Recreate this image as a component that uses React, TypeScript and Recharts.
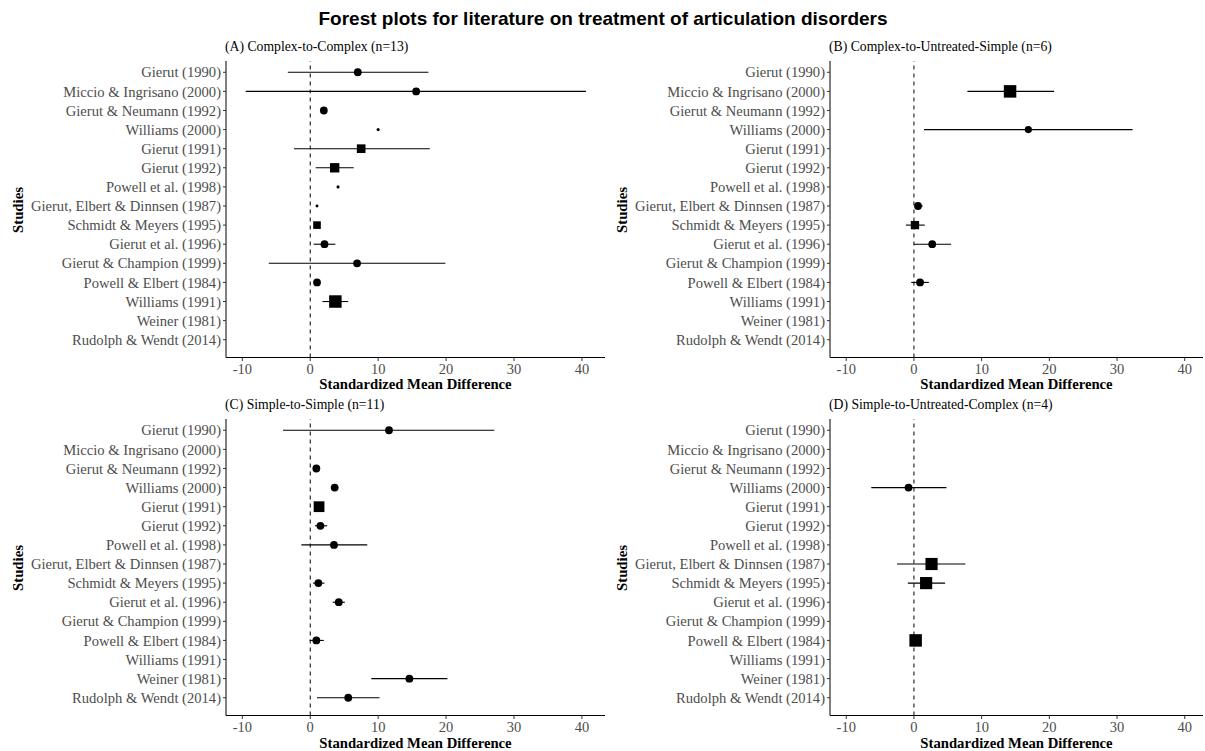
import React from 'react';
import { ScatterChart, Scatter, XAxis, YAxis, ReferenceLine, ErrorBar } from 'recharts';

// study order, top to bottom
const studies = [
  'Gierut (1990)',
  'Miccio & Ingrisano (2000)',
  'Gierut & Neumann (1992)',
  'Williams (2000)',
  'Gierut (1991)',
  'Gierut (1992)',
  'Powell et al. (1998)',
  'Gierut, Elbert & Dinnsen (1987)',
  'Schmidt & Meyers (1995)',
  'Gierut et al. (1996)',
  'Gierut & Champion (1999)',
  'Powell & Elbert (1984)',
  'Williams (1991)',
  'Weiner (1981)',
  'Rudolph & Wendt (2014)',
];

const xTicks = [-10, 0, 10, 20, 30, 40];

// smd = standardized mean difference, lo/hi = CI bounds, weight = relative marker weight, group = design (1 circle, 2 square)
const complexToComplex = [
  { study: 'Gierut (1990)', smd: 7.0, lo: -3.3, hi: 17.4, weight: 1, group: 1 },
  { study: 'Miccio & Ingrisano (2000)', smd: 15.6, lo: -9.5, hi: 40.6, weight: 1, group: 1 },
  { study: 'Gierut & Neumann (1992)', smd: 2.0, lo: 2.0, hi: 2.0, weight: 1, group: 1 },
  { study: 'Williams (2000)', smd: 10.0, lo: 10.0, hi: 10.0, weight: 0.16, group: 1 },
  { study: 'Gierut (1991)', smd: 7.5, lo: -2.4, hi: 17.6, weight: 1.23, group: 2 },
  { study: 'Gierut (1992)', smd: 3.6, lo: 0.8, hi: 6.4, weight: 1.44, group: 2 },
  { study: 'Powell et al. (1998)', smd: 4.1, lo: 4.1, hi: 4.1, weight: 0.16, group: 1 },
  { study: 'Gierut, Elbert & Dinnsen (1987)', smd: 1.0, lo: 1.0, hi: 1.0, weight: 0.14, group: 1 },
  { study: 'Schmidt & Meyers (1995)', smd: 1.0, lo: 1.0, hi: 1.0, weight: 0.95, group: 2 },
  { study: 'Gierut et al. (1996)', smd: 2.1, lo: 0.5, hi: 3.7, weight: 1, group: 1 },
  { study: 'Gierut & Champion (1999)', smd: 6.9, lo: -6.1, hi: 19.9, weight: 1, group: 1 },
  { study: 'Powell & Elbert (1984)', smd: 1.0, lo: 1.0, hi: 1.0, weight: 1, group: 1 },
  { study: 'Williams (1991)', smd: 3.7, lo: 1.8, hi: 5.6, weight: 2.56, group: 2 },
];

const complexToUntreatedSimple = [
  { study: 'Miccio & Ingrisano (2000)', smd: 14.2, lo: 7.9, hi: 20.7, weight: 2.56, group: 2 },
  { study: 'Williams (2000)', smd: 16.9, lo: 1.5, hi: 32.3, weight: 0.85, group: 1 },
  { study: 'Gierut, Elbert & Dinnsen (1987)', smd: 0.6, lo: 0.3, hi: 1.3, weight: 1, group: 1 },
  { study: 'Schmidt & Meyers (1995)', smd: 0.15, lo: -1.2, hi: 1.6, weight: 1.14, group: 2 },
  { study: 'Gierut et al. (1996)', smd: 2.7, lo: 0.0, hi: 5.5, weight: 1, group: 1 },
  { study: 'Powell & Elbert (1984)', smd: 0.9, lo: -0.4, hi: 2.2, weight: 1, group: 1 },
];

const simpleToSimple = [
  { study: 'Gierut (1990)', smd: 11.6, lo: -4.0, hi: 27.1, weight: 1, group: 1 },
  { study: 'Gierut & Neumann (1992)', smd: 0.9, lo: 0.9, hi: 0.9, weight: 1, group: 1 },
  { study: 'Williams (2000)', smd: 3.6, lo: 3.6, hi: 3.6, weight: 1, group: 1 },
  { study: 'Gierut (1991)', smd: 1.3, lo: 1.3, hi: 1.3, weight: 1.9, group: 2 },
  { study: 'Gierut (1992)', smd: 1.5, lo: 0.7, hi: 2.5, weight: 1, group: 1 },
  { study: 'Powell et al. (1998)', smd: 3.5, lo: -1.3, hi: 8.4, weight: 1, group: 1 },
  { study: 'Schmidt & Meyers (1995)', smd: 1.2, lo: 0.4, hi: 2.1, weight: 1, group: 1 },
  { study: 'Gierut et al. (1996)', smd: 4.2, lo: 3.3, hi: 5.1, weight: 1, group: 1 },
  { study: 'Powell & Elbert (1984)', smd: 0.9, lo: -0.1, hi: 2.0, weight: 1, group: 1 },
  { study: 'Weiner (1981)', smd: 14.6, lo: 9.0, hi: 20.2, weight: 1, group: 1 },
  { study: 'Rudolph & Wendt (2014)', smd: 5.6, lo: 1.0, hi: 10.2, weight: 1, group: 1 },
];

const simpleToUntreatedComplex = [
  { study: 'Williams (2000)', smd: -0.8, lo: -6.3, hi: 4.8, weight: 1, group: 1 },
  { study: 'Gierut, Elbert & Dinnsen (1987)', smd: 2.6, lo: -2.5, hi: 7.6, weight: 2.43, group: 2 },
  { study: 'Schmidt & Meyers (1995)', smd: 1.8, lo: -0.9, hi: 4.6, weight: 2.43, group: 2 },
  { study: 'Powell & Elbert (1984)', smd: 0.25, lo: 0.25, hi: 0.25, weight: 2.56, group: 2 },
];

const SERIF = '"Liberation Serif", "Times New Roman", serif';

const renderMarker = (props: any) => {
  const { cx, cy, payload } = props;
  if (cx == null || cy == null) return <g />;
  const d = 7.8 * Math.sqrt(payload.weight);
  if (payload.group === 2) {
    return <rect x={cx - d / 2} y={cy - d / 2} width={d} height={d} fill="#000" />;
  }
  return <circle cx={cx} cy={cy} r={d / 2} fill="#000" />;
};

interface PanelProps {
  rows: typeof complexToComplex;
  subtitle: string;
  left: number;
  top: number;
  width: number;
  yAxisWidth: number;
  marginRight: number;
  domain: [number, number];
}

const ForestPanel: React.FC<PanelProps> = ({ rows, subtitle, left, top, width, yAxisWidth, marginRight, domain }) => {
  const data = rows.map((r) => ({
    x: r.smd,
    y: studies.indexOf(r.study) + 1,
    err: [r.smd - r.lo, r.hi - r.smd],
    weight: r.weight,
    group: r.group,
  }));
  const plotLeft = left + yAxisWidth;
  const plotRight = left + width - marginRight;

  return (
    <>
      <div
        style={{
          position: 'absolute', left: plotLeft - 1, top: top + 38, fontSize: 13.7,
          fontFamily: SERIF, color: '#000', whiteSpace: 'nowrap', lineHeight: '18px',
        }}
      >
        {subtitle}
      </div>
      <div
        style={{
          position: 'absolute', left: left + 18, top: top + 209.5, fontSize: 14.8,
          fontFamily: SERIF, fontWeight: 'bold', transform: 'translate(-50%, -50%) rotate(-90deg)',
          whiteSpace: 'nowrap', lineHeight: '18px',
        }}
      >
        Studies
      </div>
      <div
        style={{
          position: 'absolute', left: (plotLeft + plotRight) / 2, top: top + 384.3, fontSize: 14.7,
          fontFamily: SERIF, fontWeight: 'bold', transform: 'translate(-50%, -50%)',
          whiteSpace: 'nowrap', lineHeight: '18px',
        }}
      >
        Standardized Mean Difference
      </div>
      <div style={{ position: 'absolute', left, top }}>
        <ScatterChart width={width} height={395} margin={{ top: 61, right: marginRight, bottom: 0, left: 0 }}>
          <XAxis
            type="number"
            dataKey="x"
            domain={domain}
            allowDataOverflow
            ticks={xTicks}
            interval={0}
            height={37.5}
            stroke="#000"
            tickSize={3.5}
            tickMargin={2.5}
            tickLine={{ stroke: '#333' }}
            tick={{ fill: '#4d4d4d', fontSize: 14.5, fontFamily: SERIF }}
          />
          <YAxis
            type="number"
            dataKey="y"
            domain={[0.41, 15.93]}
            allowDataOverflow
            reversed
            ticks={studies.map((_, i) => i + 1)}
            interval={0}
            width={yAxisWidth}
            stroke="#000"
            tickSize={3}
            tickMargin={2}
            tickLine={{ stroke: '#333' }}
            tickFormatter={(v: number) => studies[v - 1] ?? ''}
            tick={{ fill: '#4d4d4d', fontSize: 14.6, fontFamily: SERIF }}
          />
          <ReferenceLine x={0} stroke="#000" strokeWidth={1} strokeDasharray="4 4" />
          <Scatter data={data} shape={renderMarker} isAnimationActive={false}>
            <ErrorBar dataKey="err" direction="x" width={0} stroke="#000" strokeWidth={1.1} isAnimationActive={false} />
          </Scatter>
        </ScatterChart>
      </div>
    </>
  );
};

const leftDomain: [number, number] = [-12.4, 43.4];
const rightDomain: [number, number] = [-12.4, 42.7];

export default function App() {
  return (
    <div
      style={{
        position: 'absolute', left: 0, top: 0, width: 1205, height: 751,
        background: '#fff', overflow: 'hidden',
      }}
    >
      <div
        style={{
          position: 'absolute', left: 603, top: 18.5, transform: 'translate(-50%, -50%)',
          fontFamily: '"Liberation Sans", Arial, sans-serif', fontWeight: 'bold', fontSize: 19,
          whiteSpace: 'nowrap', lineHeight: '22px',
        }}
      >
        Forest plots for literature on treatment of articulation disorders
      </div>
      <ForestPanel
        rows={complexToComplex}
        subtitle="(A) Complex-to-Complex (n=13)"
        left={0}
        top={0}
        width={615}
        yAxisWidth={226}
        marginRight={10}
        domain={leftDomain}
      />
      <ForestPanel
        rows={complexToUntreatedSimple}
        subtitle="(B) Complex-to-Untreated-Simple (n=6)"
        left={604}
        top={0}
        width={601}
        yAxisWidth={226}
        marginRight={2}
        domain={rightDomain}
      />
      <ForestPanel
        rows={simpleToSimple}
        subtitle="(C) Simple-to-Simple (n=11)"
        left={0}
        top={358.4}
        width={615}
        yAxisWidth={226}
        marginRight={10}
        domain={leftDomain}
      />
      <ForestPanel
        rows={simpleToUntreatedComplex}
        subtitle="(D) Simple-to-Untreated-Complex (n=4)"
        left={604}
        top={358.4}
        width={601}
        yAxisWidth={226}
        marginRight={2}
        domain={rightDomain}
      />
    </div>
  );
}
